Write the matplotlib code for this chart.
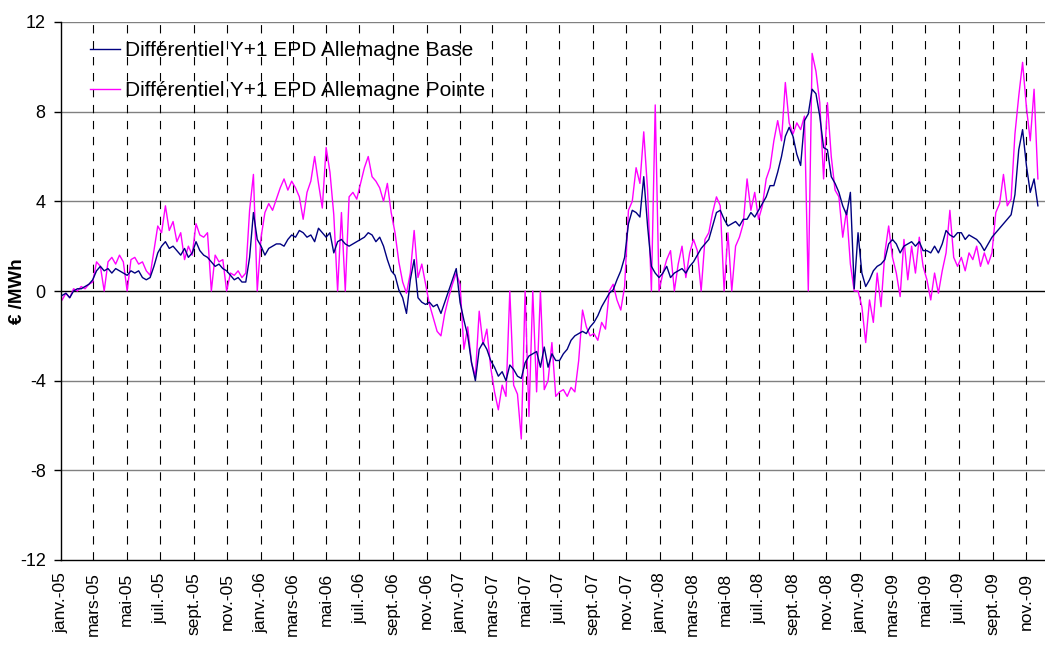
import numpy as np
import pandas as pd
import matplotlib
matplotlib.use("Agg")
import matplotlib.pyplot as plt

plt.rcParams['font.family'] = ['Liberation Sans', 'DejaVu Sans']
plt.rcParams['lines.scale_dashes'] = False
plt.rcParams['axes.unicode_minus'] = False

# weekly readings (Mondays), Y+1 Germany spread, EUR/MWh
base_2005 = [-0.2, -0.1, -0.3, 0.0, 0.1, 0.1, 0.2, 0.3, 0.5, 0.9, 1.1, 0.9, 1.0,
             0.8, 1.0, 0.9, 0.8, 0.7, 0.9, 0.8, 0.9, 0.6, 0.5, 0.6, 1.1, 1.7,
             2.0, 2.2, 1.9, 2.0, 1.8, 1.6, 1.9, 1.5, 1.7, 2.2, 1.8, 1.6, 1.5,
             1.3, 1.1, 1.2, 1.0, 0.9, 0.7, 0.5, 0.6, 0.4, 0.4, 1.5, 3.5, 2.3]
base_2006 = [2.0, 1.6, 1.9, 2.0, 2.1, 2.1, 2.0, 2.3, 2.5, 2.4, 2.7, 2.6, 2.4,
             2.5, 2.2, 2.8, 2.6, 2.4, 2.6, 1.7, 2.2, 2.3, 2.1, 2.0, 2.1, 2.2,
             2.3, 2.4, 2.6, 2.5, 2.2, 2.4, 2.0, 1.4, 0.9, 0.7, 0.05, -0.3, -1.0,
             0.5, 1.4, -0.3, -0.5, -0.6, -0.5, -0.7, -0.6, -1.0, -0.5, 0.0, 0.5, 1.0]
base_2007 = [-0.5, -1.3, -2.0, -3.2, -4.0, -2.6, -2.3, -2.6, -3.1, -3.4, -3.8, -3.6, -4.0,
             -3.3, -3.5, -3.8, -3.9, -3.2, -2.9, -2.8, -2.7, -3.4, -2.5, -3.4, -2.8, -3.1,
             -3.1, -2.8, -2.6, -2.2, -2.0, -1.9, -1.8, -1.9, -1.6, -1.4, -1.1, -0.7, -0.4,
             -0.1, 0.05, 0.5, 0.9, 1.5, 3.0, 3.6, 3.5, 3.3, 5.1, 2.9, 1.1, 0.8, 0.6]
base_2008 = [0.8, 1.1, 0.6, 0.8, 0.9, 1.0, 0.8, 1.1, 1.3, 1.6, 1.9, 2.1, 2.3,
             2.9, 3.5, 3.6, 3.2, 2.9, 3.0, 3.1, 2.9, 3.2, 3.2, 3.5, 3.3, 3.6,
             3.9, 4.2, 4.7, 4.7, 5.3, 6.0, 6.9, 7.3, 6.9, 6.1, 5.6, 7.6, 7.9,
             9.0, 8.8, 7.8, 6.4, 6.3, 5.1, 4.8, 4.4, 3.8, 3.4, 4.4, 0.1, 2.6]
base_2009 = [0.8, 0.2, 0.5, 0.9, 1.1, 1.2, 1.4, 2.1, 2.3, 2.1, 1.7, 2.0, 2.1,
             2.2, 2.0, 2.2, 1.8, 1.8, 1.7, 2.0, 1.7, 2.1, 2.7, 2.5, 2.4, 2.6,
             2.6, 2.3, 2.5, 2.4, 2.3, 2.1, 1.8, 2.1, 2.4, 2.6, 2.8, 3.0, 3.2,
             3.4, 4.3, 6.3, 7.2, 5.6, 4.4, 5.0, 3.8]

pointe_2005 = [-0.4, -0.1, -0.3, 0.1, 0.0, 0.2, 0.1, 0.3, 0.4, 1.3, 1.1, 0.0, 1.3,
               1.5, 1.2, 1.6, 1.3, 0.0, 1.4, 1.5, 1.2, 1.3, 0.9, 0.7, 1.8, 2.9,
               2.6, 3.8, 2.7, 3.1, 2.2, 2.6, 1.4, 2.0, 1.6, 3.0, 2.5, 2.4, 2.6,
               0.0, 1.6, 1.3, 1.4, 0.0, 0.8, 0.7, 0.9, 0.6, 0.8, 3.6, 5.2, 0.0]
pointe_2006 = [2.4, 3.5, 3.9, 3.6, 4.1, 4.6, 5.0, 4.5, 4.9, 4.6, 4.2, 3.2, 4.4,
               4.9, 6.0, 4.8, 3.7, 6.4, 5.3, 3.4, 0.0, 3.5, 0.0, 4.2, 4.4, 4.1,
               4.8, 5.5, 6.0, 5.1, 4.9, 4.6, 4.0, 4.8, 3.5, 2.6, 1.3, 0.4, -0.1,
               0.8, 2.7, 0.6, 1.2, 0.3, -0.6, -1.2, -1.8, -2.0, -1.0, -0.3, 0.3, 0.8]
pointe_2007 = [0.3, -2.6, -1.6, -3.2, -3.8, -0.9, -2.4, -1.7, -3.4, -4.5, -5.3, -4.2, -4.7,
               0.0, -4.2, -4.6, -6.6, 0.0, -5.6, 0.0, -4.5, 0.0, -4.4, -4.0, -2.3, -4.7,
               -4.5, -4.4, -4.7, -4.3, -4.5, -3.1, -0.85, -1.6, -2.0, -1.9, -2.2, -1.4, -1.7,
               0.0, 0.3, -0.4, -0.85, 0.2, 3.6, 4.0, 5.5, 4.8, 7.1, 4.5, 0.0, 8.3, 0.0]
pointe_2008 = [0.8, 1.4, 1.8, 0.0, 1.2, 2.0, 0.6, 1.7, 2.3, 1.8, 0.0, 2.3, 2.6,
               3.5, 4.2, 3.8, 0.0, 2.6, 0.0, 2.0, 2.4, 3.0, 5.0, 3.6, 4.4, 3.2,
               3.8, 5.0, 5.5, 6.7, 7.6, 6.7, 9.3, 7.5, 7.0, 7.5, 7.2, 7.8, 0.0,
               10.6, 9.8, 8.4, 5.0, 8.4, 6.0, 4.5, 4.2, 2.4, 3.6, 1.2, 0.0, 0.0]
pointe_2009 = [-0.7, -2.3, -0.4, -1.4, 0.8, -0.7, 1.7, 2.9, 1.5, 0.8, -0.25, 2.3, 0.5,
               2.0, 0.8, 2.4, 1.1, 0.5, -0.4, 0.8, -0.1, 0.9, 1.7, 3.6, 1.5, 1.1,
               1.5, 0.9, 1.7, 1.4, 2.0, 1.1, 1.7, 1.2, 1.7, 3.5, 3.9, 5.2, 3.8,
               4.1, 7.0, 8.7, 10.2, 8.2, 6.7, 9.0, 5.0]

tick_labels = ['janv.-05', 'mars-05', 'mai-05', 'juil.-05', 'sept.-05', 'nov.-05',
               'janv.-06', 'mars-06', 'mai-06', 'juil.-06', 'sept.-06', 'nov.-06',
               'janv.-07', 'mars-07', 'mai-07', 'juil.-07', 'sept.-07', 'nov.-07',
               'janv.-08', 'mars-08', 'mai-08', 'juil.-08', 'sept.-08', 'nov.-08',
               'janv.-09', 'mars-09', 'mai-09', 'juil.-09', 'sept.-09', 'nov.-09']

dates = pd.date_range('2005-01-03', '2009-11-23', freq='W-MON')
base = base_2005 + base_2006 + base_2007 + base_2008 + base_2009
pointe = pointe_2005 + pointe_2006 + pointe_2007 + pointe_2008 + pointe_2009
ticks = pd.date_range('2005-01-01', '2009-11-01', freq='2MS')

fig = plt.figure(figsize=(10.45, 6.5), dpi=100)
ax = fig.add_axes([61 / 1045, 1 - 560 / 650, 1 - 61 / 1045, (560 - 22) / 650])

# horizontal grid every 4, dashed verticals at each tick
for v in [-8, -4, 4, 8, 12]:
    ax.axhline(v, color='#808080', lw=1.0, zorder=1)
ax.axhline(0, color='black', lw=1.0, zorder=1)
for t in ticks[1:]:
    ax.axvline(t, color='black', lw=0.8, linestyle=(0, (6, 5.5)), zorder=1)

ax.plot(dates, base, color='#000080', lw=1.0, zorder=3,
        label='Différentiel Y+1 EPD Allemagne Base')
ax.plot(dates, pointe, color='#FF00FF', lw=1.0, zorder=2,
        label='Différentiel Y+1 EPD Allemagne Pointe')

ax.set_xlim(pd.Timestamp('2005-01-01'), pd.Timestamp('2009-12-06'))
ax.set_ylim(-12, 12)
ax.set_yticks([-12, -8, -4, 0, 4, 8, 12])
ax.tick_params(axis='y', labelsize=13, length=5, width=1, direction='out', pad=6)
ax.set_xticks(ticks)
ax.set_xticklabels(tick_labels, rotation=90, fontsize=12.5)
ax.tick_params(axis='x', length=0, pad=9)

for s in ['top', 'right']:
    ax.spines[s].set_visible(False)
ax.spines['left'].set_linewidth(1.0)
ax.spines['bottom'].set_linewidth(1.0)

fig.text(17 / 1045, 1 - 291 / 650, '€ /MWh', rotation=90, fontsize=13.5,
         fontweight='bold', ha='center', va='center')

leg = ax.legend(loc='upper left', frameon=False, fontsize=15, handlelength=1.45,
                handletextpad=0.25, labelspacing=1.0, borderpad=0, borderaxespad=0,
                bbox_to_anchor=(0.0295, 0.9645))

fig.savefig('out.png', dpi=100)
